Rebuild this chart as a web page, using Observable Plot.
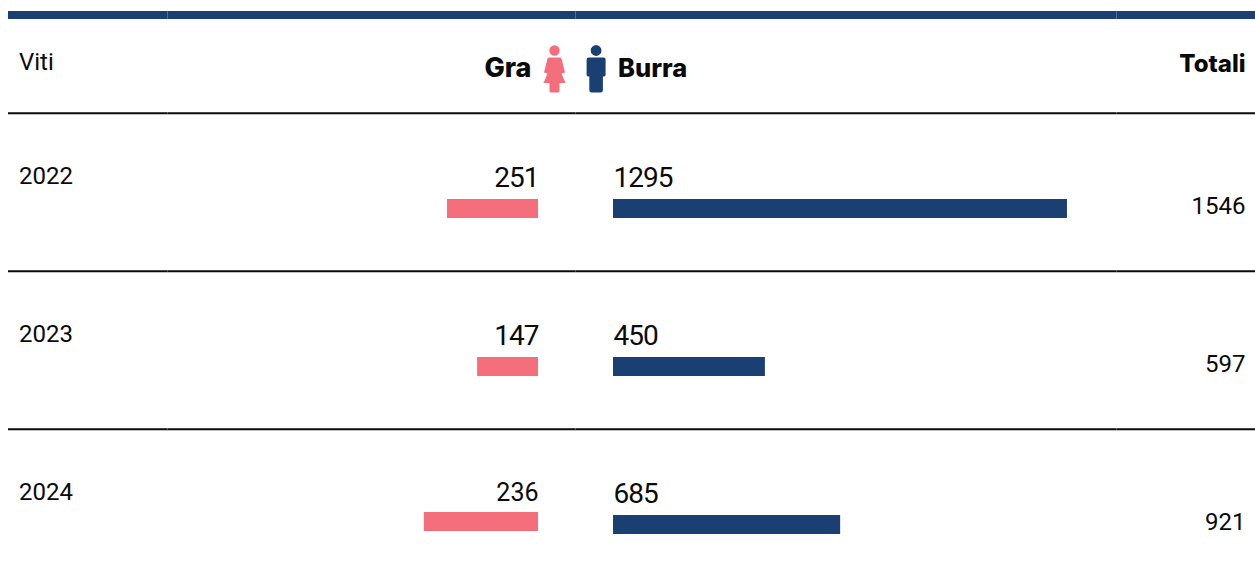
<!DOCTYPE html>
<html>
<head>
<meta charset="utf-8">
<script src="https://cdn.jsdelivr.net/npm/d3@7"></script>
<script src="https://cdn.jsdelivr.net/npm/@observablehq/plot@0.6"></script>
<style>
html,body{margin:0;padding:0;background:#fff}
svg{display:block}
g[font-size="28"] text{letter-spacing:-1px}
</style>
</head>
<body>
<div id="chart"></div>
<script>
const years = [2022, 2023, 2024];
const girls = [251, 147, 236];
const boys = [1295, 450, 685];
const totals = [1546, 597, 921];
// Bar lengths (they are not strictly proportional to the printed labels).
const girlBars = [260, 174, 326];
const boyBars = [1297, 434, 649];
const girlLabel = "Gra", boyLabel = "Burra", yearLabel = "Viti", totalLabel = "Totali";

const NAVY = "#1a3f72", PINK = "#f56e7c", INK = "#0a0a0a";
const FONT = "Roboto, sans-serif", HEADFONT = "Inter, sans-serif";
const W = 1255, H = 581, LEFT = 8, ZERO = 613, K = 0.35, GAP = 75;
const atPx = px => (px - ZERO) / K;

const rows = years.map((year, i) => ({
  year, girl: girls[i], boy: boys[i], total: totals[i], girlBar: girlBars[i], boyBar: boyBars[i]
}));

const girlSymbol = {draw(c) {
  c.moveTo(-6, 7); c.lineTo(6, 7); c.lineTo(7, 8);
  c.lineTo(10.5, 22); c.lineTo(7, 23); c.lineTo(11, 32.5); c.lineTo(-11, 32.5); c.lineTo(-7, 23); c.lineTo(-10.5, 22);
  c.lineTo(-7, 8); c.closePath();
  c.moveTo(-5, 32); c.lineTo(5, 32); c.lineTo(5, 40.5); c.quadraticCurveTo(5, 42, 3.5, 42);
  c.lineTo(-3.5, 42); c.quadraticCurveTo(-5, 42, -5, 40.5); c.closePath();
  c.moveTo(5.2, 0); c.arc(0, 0, 5.2, 0, 2 * Math.PI); c.closePath();
}};
const boySymbol = {draw(c) {
  c.moveTo(-7.5, 7); c.lineTo(7.5, 7); c.quadraticCurveTo(9.5, 7, 9.5, 9);
  c.lineTo(9.5, 24.5); c.quadraticCurveTo(9.5, 26, 7, 26); c.lineTo(6.8, 26); c.lineTo(6.8, 39.5);
  c.quadraticCurveTo(6.8, 42, 4.5, 42); c.lineTo(-4.5, 42); c.quadraticCurveTo(-6.8, 42, -6.8, 39.5);
  c.lineTo(-6.8, 26); c.lineTo(-7, 26); c.quadraticCurveTo(-9.5, 26, -9.5, 24.5); c.lineTo(-9.5, 9);
  c.quadraticCurveTo(-9.5, 7, -7.5, 7); c.closePath();
  c.moveTo(5.4, 0); c.arc(0, 0, 5.4, 0, 2 * Math.PI); c.closePath();
}};

const breaks = [167, 575, 1116];
const breakBands = [[11, 19], [112, 114], [270, 272], [428, 430]];

const chart = Plot.plot({
  width: W, height: H,
  marginLeft: LEFT, marginRight: 0, marginTop: 0, marginBottom: 0,
  style: {background: "#fff", fontFamily: FONT, overflow: "hidden"},
  x: {domain: [atPx(LEFT), atPx(W)], axis: null},
  y: {type: "band", domain: years, range: [113, 587], padding: 0, axis: null},
  marks: [
    // table rules
    Plot.ruleY([years[0]], {dy: -177.5, stroke: NAVY, strokeWidth: 8}),
    Plot.ruleY(years, {dy: -79.2, stroke: INK, strokeWidth: 2}),
    ...breakBands.map(([a, b]) => Plot.ruleX(breaks.map(atPx), {
      insetTop: a, insetBottom: H - b, stroke: "#fff", strokeOpacity: 0.25, strokeWidth: 1
    })),

    // header
    Plot.text([yearLabel], {frameAnchor: "top-left", dx: 10.5, dy: 62, fontFamily: FONT, fontSize: 24, fill: INK, textAnchor: "start", lineAnchor: "middle"}),
    Plot.text([girlLabel], {frameAnchor: "top-left", dx: 523, dy: 68, fontFamily: HEADFONT, fontSize: 27, fontWeight: 800, fill: INK, textAnchor: "end", lineAnchor: "middle"}),
    Plot.text([boyLabel], {frameAnchor: "top-left", dx: 609.5, dy: 68, fontFamily: HEADFONT, fontSize: 25.5, fontWeight: 800, fill: INK, textAnchor: "start", lineAnchor: "middle"}),
    Plot.text([totalLabel], {frameAnchor: "top-right", dx: -10, dy: 64, fontFamily: HEADFONT, fontSize: 24, fontWeight: 800, fill: INK, textAnchor: "end", lineAnchor: "middle"}),
    Plot.dot([0], {frameAnchor: "top-left", dx: 546, dy: 50, r: 1, symbol: girlSymbol, fill: PINK, stroke: null}),
    Plot.dot([0], {frameAnchor: "top-left", dx: 587.6, dy: 50, r: 1, symbol: boySymbol, fill: NAVY, stroke: null}),

    // bars
    Plot.barX(rows.filter(d => d.year !== 2024), {x1: 0, x2: d => -d.girlBar, y: "year", dx: -GAP, insetTop: 86, insetBottom: 53, fill: PINK}),
    Plot.barX(rows.filter(d => d.year === 2024), {x1: 0, x2: d => -d.girlBar, y: "year", dx: -GAP, insetTop: 83, insetBottom: 56, fill: PINK}),
    Plot.barX(rows, {x1: 0, x2: "boyBar", y: "year", insetTop: 86, insetBottom: 53, fill: NAVY}),

    // value labels
    Plot.text(rows, {y: "year", text: d => String(d.year), frameAnchor: "left", dx: 10.5, dy: -15.7, fontSize: 24, fill: INK, textAnchor: "start"}),
    Plot.text(rows.filter(d => d.year !== 2024), {x: 0, y: "year", text: d => String(d.girl), dx: -GAP, dy: -14, fontSize: 28, fill: INK, textAnchor: "end"}),
    Plot.text(rows.filter(d => d.year === 2024), {x: 0, y: "year", text: d => String(d.girl), dx: -GAP, dy: -15.5, fontSize: 25, fill: INK, textAnchor: "end"}),
    Plot.text(rows, {x: 0, y: "year", text: d => String(d.boy), dy: -14, fontSize: 28, fill: INK, textAnchor: "start"}),
    Plot.text(rows, {y: "year", text: d => String(d.total), frameAnchor: "right", dx: -10, dy: 14, fontSize: 24, fill: INK, textAnchor: "end"})
  ]
});
document.getElementById("chart").appendChild(chart);
</script>
</body>
</html>
